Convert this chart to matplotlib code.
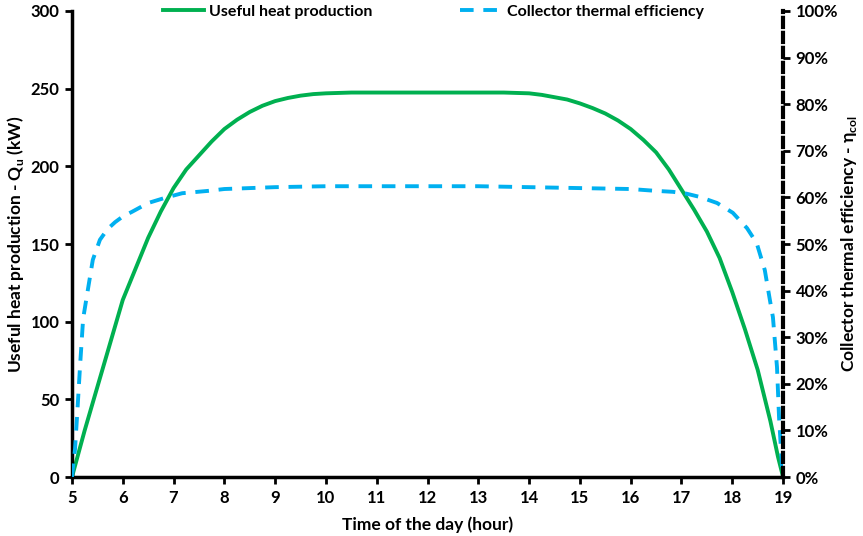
import matplotlib
matplotlib.use("Agg")
import matplotlib.pyplot as plt
from matplotlib.ticker import PercentFormatter, MultipleLocator

plt.rcParams.update({"font.family": ["Lato", "DejaVu Sans"], "font.weight": "bold",
                     "font.size": 12})
GREEN = "#00B050"
BLUE = "#00B0F0"

# useful heat production (kW) vs hour of day
heat_hours = [5, 5.25, 5.5, 5.75, 6, 6.25, 6.5, 6.75, 7, 7.25, 7.5, 7.75, 8, 8.25,
              8.5, 8.75, 9, 9.25, 9.5, 9.75, 10, 10.5, 11, 12, 13, 13.5, 14, 14.25, 14.5,
              14.75, 15, 15.25, 15.5, 15.75, 16, 16.25, 16.5, 16.75, 17, 17.25, 17.5,
              17.75, 18, 18.25, 18.5, 18.75, 18.9, 19]
heat_kw = [0, 30, 58, 86, 114, 134, 154, 171, 186, 198, 207, 216, 224, 230,
           235, 239, 242, 244, 245.5, 246.5, 247, 247.5, 247.5, 247.5, 247.5, 247.5, 247,
           246, 244.5, 243, 240.5, 237.5, 234, 229.5, 224, 217, 209, 198, 185, 172, 158,
           141, 119, 95, 69, 36, 13, 0]

# collector thermal efficiency (%) vs hour of day
eff_hours = [5, 5.06, 5.1, 5.16, 5.22, 5.31, 5.41, 5.55, 5.7, 5.85, 6.0, 6.18, 6.5,
             6.83, 7.17, 7.68, 8, 9, 10, 11, 12, 13, 14, 15, 16, 16.5, 16.83, 17.1, 17.36,
             17.7, 18.01, 18.29, 18.48, 18.64, 18.74, 18.8, 18.88, 18.92, 18.98, 19]
eff_pct = [0, 6, 13, 24, 34, 40, 46.6, 50.9, 53.2, 54.7, 55.9, 56.9, 58.8,
           59.9, 60.9, 61.4, 61.8, 62.2, 62.4, 62.4, 62.4, 62.4, 62.2, 62.0, 61.8, 61.4,
           61.2, 60.8, 60.1, 58.8, 56.7, 53.4, 50.2, 44.4, 38, 34.3, 23.6, 12.9, 2, 0]

fig = plt.figure(figsize=(8.63, 5.36), dpi=100)
ax = fig.add_axes([0.0834, 0.110, 0.824, 0.8695])
ax2 = ax.twinx()

l1, = ax.plot(heat_hours, heat_kw, color=GREEN, lw=2.8, label="Useful heat production")
l2, = ax2.plot(eff_hours, eff_pct, color=BLUE, lw=2.8, linestyle=(0, (3.5, 2.5)),
               label="Collector thermal efficiency")

ax.set_xlim(5, 19)
ax.set_ylim(0, 300)
ax.xaxis.set_major_locator(MultipleLocator(1))
ax.yaxis.set_major_locator(MultipleLocator(50))
ax2.set_ylim(0, 100)
ax2.yaxis.set_major_locator(MultipleLocator(10))
ax2.yaxis.set_major_formatter(PercentFormatter(100, decimals=0))

for s in ["top", "right"]:
    ax.spines[s].set_visible(False)
for s in ["top", "left", "bottom"]:
    ax2.spines[s].set_visible(False)
ax.spines["left"].set_linewidth(2.5)
ax.spines["bottom"].set_linewidth(2.5)
ax2.spines["right"].set_linewidth(3)
ax2.spines["right"].set_linestyle((0, (2.2, 1.4)))

ax.tick_params(direction="out", length=5, width=2, labelsize=12, pad=4)
ax2.tick_params(direction="out", length=5, width=2, labelsize=12, pad=4)

ax.set_xlabel("Time of the day (hour)", fontsize=12.5, fontweight="bold", labelpad=8)
ax.set_ylabel("Useful heat production - Q$_\\mathregular{u}$ (kW)", fontsize=12.5,
              fontweight="bold", labelpad=3)
ax2.set_ylabel("Collector thermal efficiency - η$_\\mathregular{col}$", fontsize=12.5,
               fontweight="bold", labelpad=1, rotation=90)

ax.legend([l1, l2], [l1.get_label(), l2.get_label()], loc="center",
          bbox_to_anchor=(0.508, 0.998), ncol=2, frameon=False, fontsize=11.5,
          handlelength=2.6, handletextpad=0.3, columnspacing=5.5)

fig.savefig("out.png", dpi=100)
